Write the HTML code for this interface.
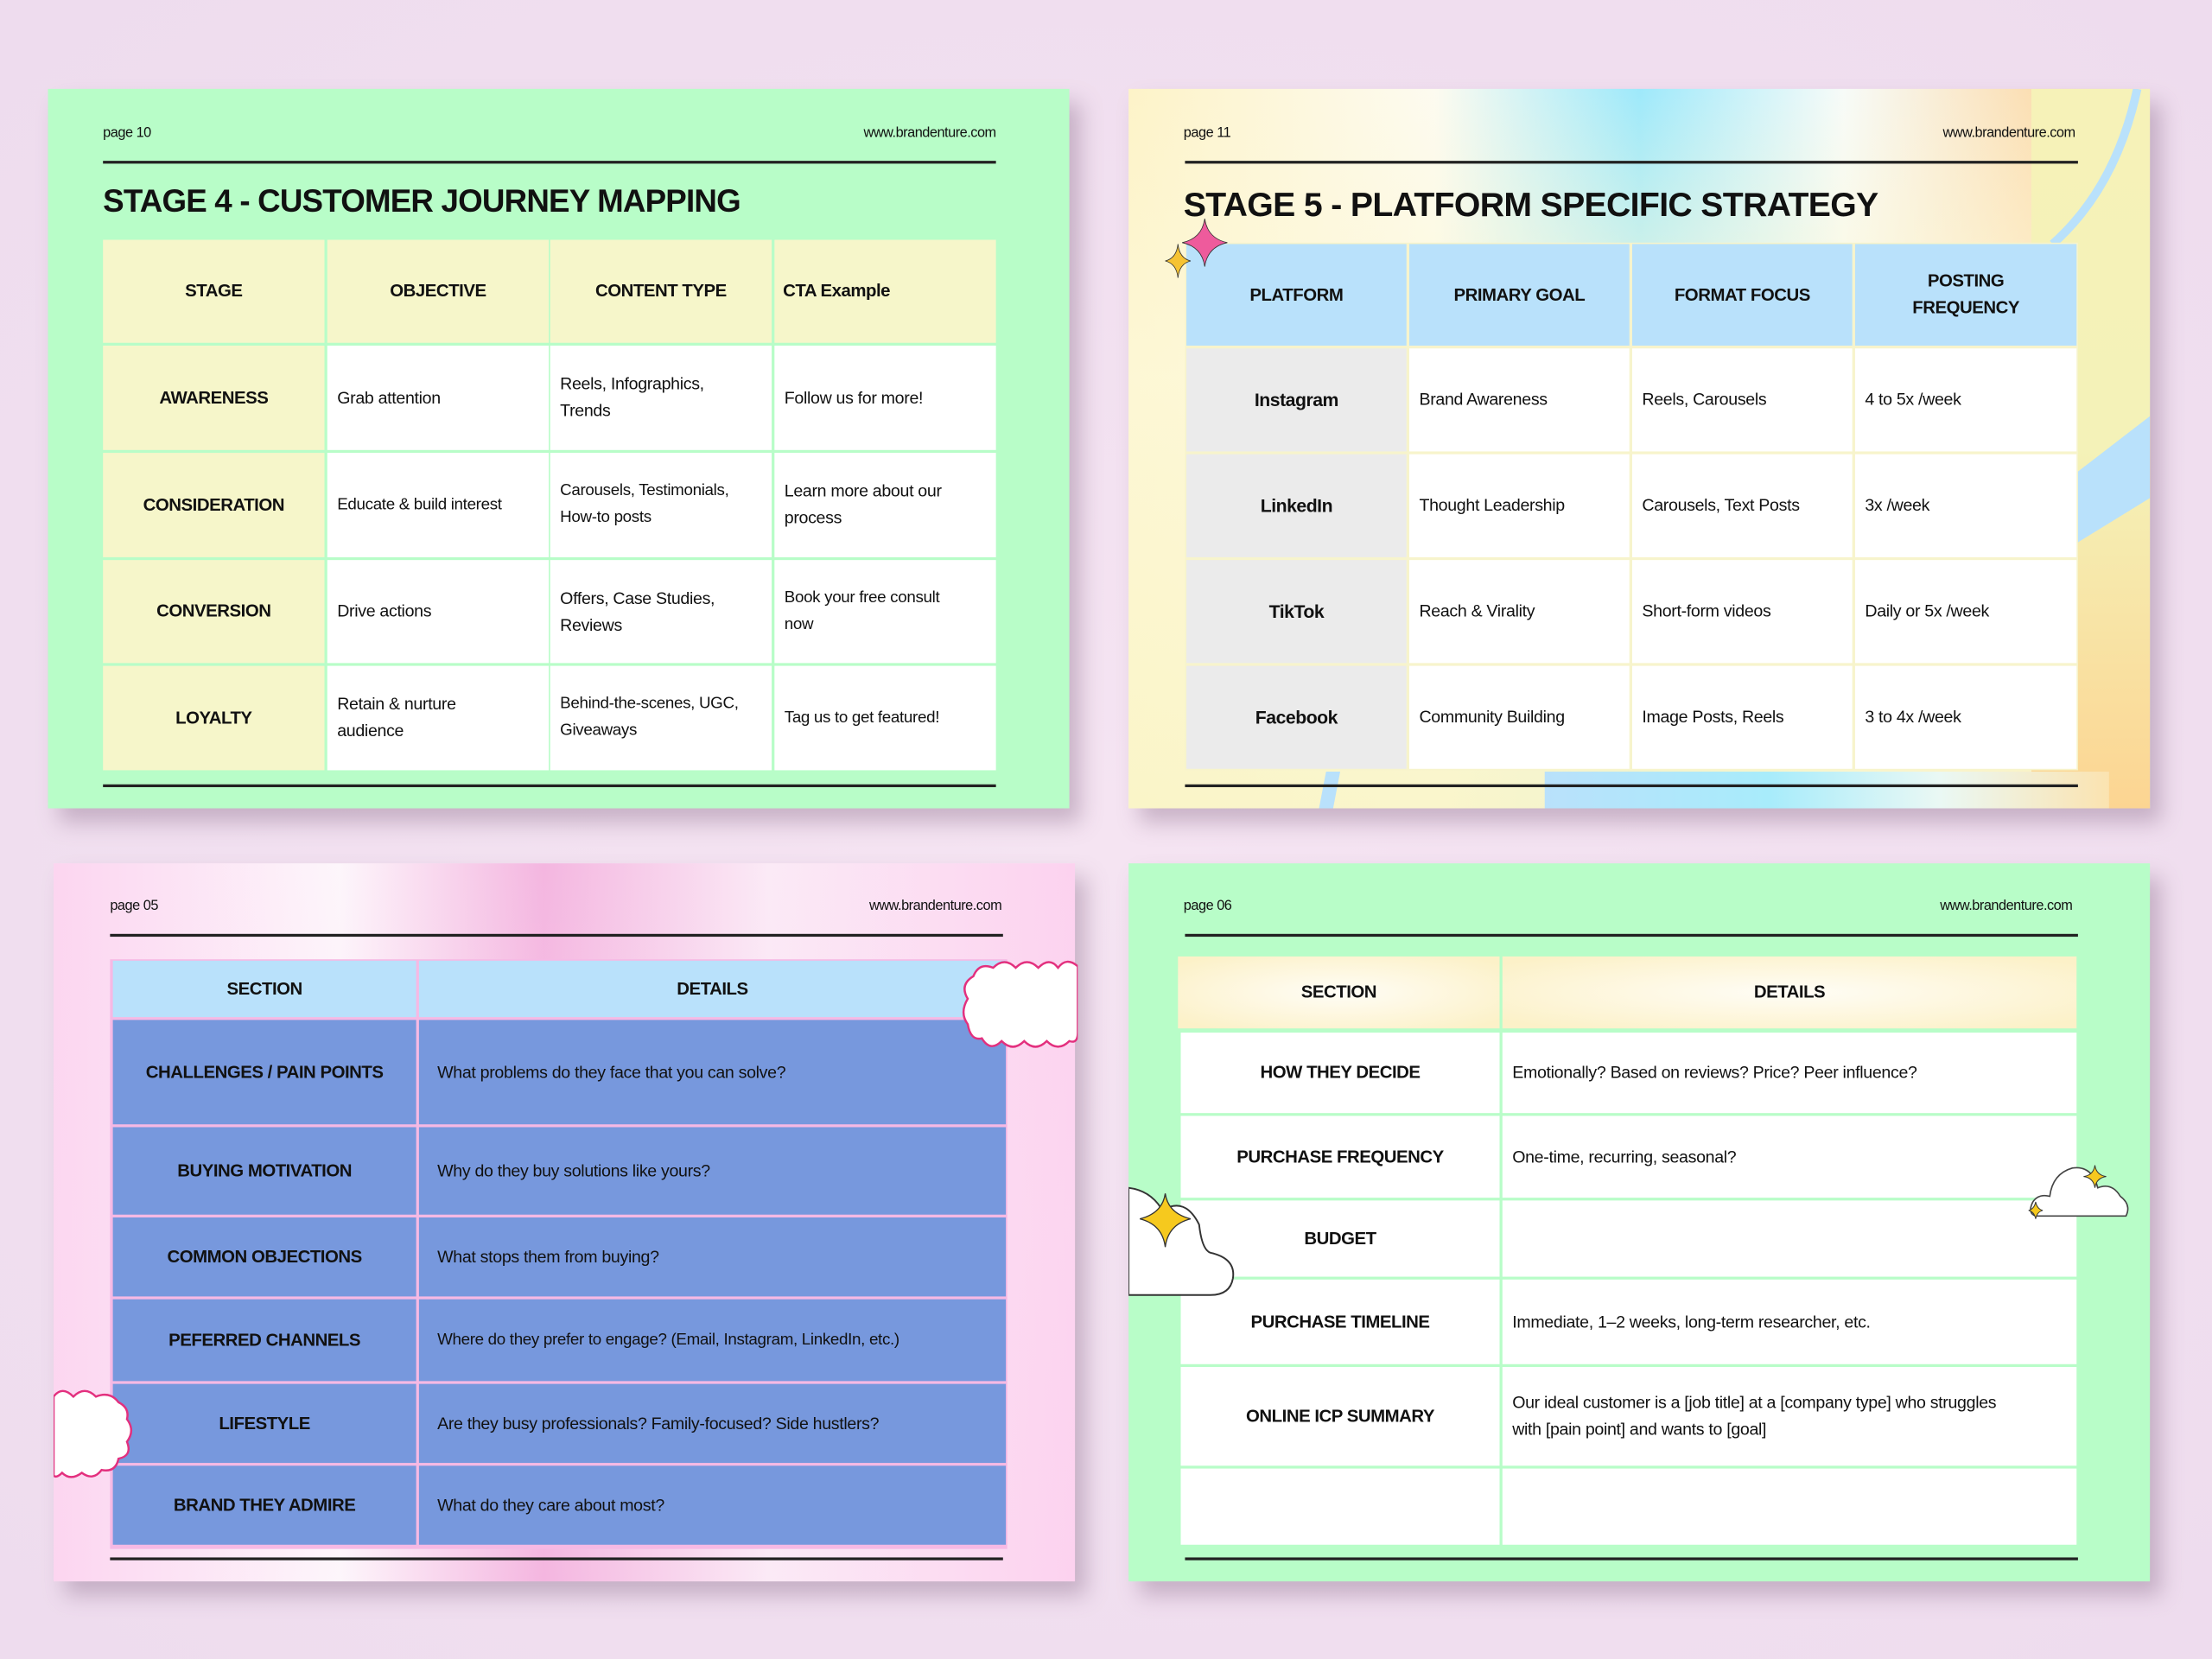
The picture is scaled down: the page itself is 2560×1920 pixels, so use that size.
<!DOCTYPE html>
<html><head><meta charset="utf-8">
<style>
*{margin:0;padding:0;box-sizing:border-box}
html,body{width:2560px;height:1920px;overflow:hidden;background:#f3dff0}
#root{position:absolute;left:0;top:0;width:1568px;height:1176px;transform:scale(1.632653);transform-origin:0 0;font-family:"Liberation Sans",sans-serif;color:#111;background:radial-gradient(ellipse at 50% 50%,#f5e4f2,#eedcee)}
.panel{position:absolute;box-shadow:8px 10px 14px rgba(120,90,120,.35)}
.pg{position:absolute;font-size:10px;letter-spacing:-.3px}
.url{position:absolute;font-size:10px;letter-spacing:-.3px;text-align:right}
.hr{position:absolute;height:1.5px;background:#222}
.title{position:absolute;font-size:22.5px;font-weight:bold;letter-spacing:-0.5px;white-space:nowrap}
.c{position:absolute;display:flex;align-items:center;font-size:12px;line-height:19px;letter-spacing:-.2px;padding:0 7px}
.h{font-weight:bold;font-size:12.5px;justify-content:center;text-align:center;letter-spacing:-.3px;padding:0 3px}
</style></head><body><div id="root">

<!-- Panel 1 -->
<div class="panel" style="left:34px;top:63px;width:724px;height:510px;background:#b8fdc8"></div>
<div class="pg" style="left:73px;top:89px">page 10</div>
<div class="url" style="left:506px;width:200px;top:89px">www.brandenture.com</div>
<div class="hr" style="left:73px;top:114px;width:633px"></div>
<div class="title" style="left:73px;top:130px">STAGE 4 - CUSTOMER JOURNEY MAPPING</div>
<div style="position:absolute;left:73px;top:170px;width:633px;height:376px;background:#b8fdc8"></div>
<div class="c h" style="left:73px;top:170px;width:157px;height:73px;background:#f6f6ca">STAGE</div>
<div class="c h" style="left:232px;top:170px;width:157px;height:73px;background:#f6f6ca">OBJECTIVE</div>
<div class="c h" style="left:390px;top:170px;width:157px;height:73px;background:#f6f6ca">CONTENT TYPE</div>
<div class="c h" style="left:549px;top:170px;width:157px;height:73px;background:#f6f6ca;justify-content:flex-start;padding-left:6px">CTA Example</div>

<div class="c h" style="left:73px;top:245px;width:157px;height:74px;background:#f6f6ca">AWARENESS</div>
<div class="c" style="left:232px;top:245px;width:157px;height:74px;background:#fff">Grab attention</div>
<div class="c" style="left:390px;top:245px;width:157px;height:74px;background:#fff">Reels, Infographics,<br>Trends</div>
<div class="c" style="left:549px;top:245px;width:157px;height:74px;background:#fff">Follow us for more!</div>

<div class="c h" style="left:73px;top:321px;width:157px;height:74px;background:#f6f6ca">CONSIDERATION</div>
<div class="c" style="left:232px;top:321px;width:157px;height:74px;background:#fff;font-size:11.5px">Educate &amp; build interest</div>
<div class="c" style="left:390px;top:321px;width:157px;height:74px;background:#fff;font-size:11.5px">Carousels, Testimonials,<br>How-to posts</div>
<div class="c" style="left:549px;top:321px;width:157px;height:74px;background:#fff">Learn more about our<br>process</div>

<div class="c h" style="left:73px;top:397px;width:157px;height:73px;background:#f6f6ca">CONVERSION</div>
<div class="c" style="left:232px;top:397px;width:157px;height:73px;background:#fff">Drive actions</div>
<div class="c" style="left:390px;top:397px;width:157px;height:73px;background:#fff">Offers, Case Studies,<br>Reviews</div>
<div class="c" style="left:549px;top:397px;width:157px;height:73px;background:#fff;font-size:11.5px">Book your free consult<br>now</div>

<div class="c h" style="left:73px;top:472px;width:157px;height:74px;background:#f6f6ca">LOYALTY</div>
<div class="c" style="left:232px;top:472px;width:157px;height:74px;background:#fff">Retain &amp; nurture<br>audience</div>
<div class="c" style="left:390px;top:472px;width:157px;height:74px;background:#fff;font-size:11.5px">Behind-the-scenes, UGC,<br>Giveaways</div>
<div class="c" style="left:549px;top:472px;width:157px;height:74px;background:#fff;font-size:11.5px">Tag us to get featured!</div>
<div class="hr" style="left:73px;top:556px;width:633px"></div>

<!-- Panel 2 -->
<div class="panel" style="left:800px;top:63px;width:724px;height:510px;overflow:hidden;background:linear-gradient(90deg,#fdf3c8 0%,#fdfbf0 30%,#9ee9fb 50%,#f7fbf8 70%,#fcd9a6 92%,#f4f1b8 100%)">
  <div style="position:absolute;left:0;top:0;width:724px;height:510px;background:linear-gradient(180deg,rgba(255,255,255,0) 0%,rgba(253,248,215,.85) 40%,rgba(250,245,200,.9) 100%)"></div>
  <div style="position:absolute;left:640px;top:0;width:84px;height:510px;background:linear-gradient(180deg,#f6f2b8 0%,#f4f2b8 50%,#fcd592 100%)"></div>
  <svg style="position:absolute;left:0;top:0" width="724" height="510" viewBox="0 0 724 510">
    <path d="M715 0 Q700 70 655 110" stroke="#b9e1fb" stroke-width="6" fill="none"/>
    <path d="M672 272 L724 232 L724 290 L672 322Z" fill="#b9e1fb"/>
    <path d="M140 484 L150 484 L145 510 L135 510Z" fill="#b9e1fb"/>
  </svg>
  <div style="position:absolute;left:295px;top:484px;width:400px;height:26px;background:linear-gradient(90deg,#b9e1fb,#a8ecfb 40%,#eaf8f4 70%,#fbe3b0)"></div>
</div>
<div class="pg" style="left:839px;top:89px">page 11</div>
<div class="url" style="left:1271px;width:200px;top:89px">www.brandenture.com</div>
<div class="hr" style="left:840px;top:114px;width:633px"></div>
<div class="title" style="left:839px;top:132px;font-size:24px;letter-spacing:-0.4px">STAGE 5 - PLATFORM SPECIFIC STRATEGY</div>
<div style="position:absolute;left:840px;top:172px;width:633px;height:374px;background:#f7f4cc"></div>
<div class="c h" style="left:841px;top:173px;width:156px;height:72px;background:#b9e1fb">PLATFORM</div>
<div class="c h" style="left:999px;top:173px;width:156px;height:72px;background:#b9e1fb">PRIMARY GOAL</div>
<div class="c h" style="left:1157px;top:173px;width:156px;height:72px;background:#b9e1fb">FORMAT FOCUS</div>
<div class="c h" style="left:1315px;top:173px;width:157px;height:72px;background:#b9e1fb">POSTING<br>FREQUENCY</div>

<div class="c h" style="left:841px;top:247px;width:156px;height:73px;background:#ebebeb;font-size:13px">Instagram</div>
<div class="c" style="left:999px;top:247px;width:156px;height:73px;background:#fff">Brand Awareness</div>
<div class="c" style="left:1157px;top:247px;width:156px;height:73px;background:#fff">Reels, Carousels</div>
<div class="c" style="left:1315px;top:247px;width:157px;height:73px;background:#fff">4 to 5x /week</div>

<div class="c h" style="left:841px;top:322px;width:156px;height:73px;background:#ebebeb;font-size:13px">LinkedIn</div>
<div class="c" style="left:999px;top:322px;width:156px;height:73px;background:#fff">Thought Leadership</div>
<div class="c" style="left:1157px;top:322px;width:156px;height:73px;background:#fff">Carousels, Text Posts</div>
<div class="c" style="left:1315px;top:322px;width:157px;height:73px;background:#fff">3x /week</div>

<div class="c h" style="left:841px;top:397px;width:156px;height:73px;background:#ebebeb;font-size:13px">TikTok</div>
<div class="c" style="left:999px;top:397px;width:156px;height:73px;background:#fff">Reach &amp; Virality</div>
<div class="c" style="left:1157px;top:397px;width:156px;height:73px;background:#fff">Short-form videos</div>
<div class="c" style="left:1315px;top:397px;width:157px;height:73px;background:#fff">Daily or 5x /week</div>

<div class="c h" style="left:841px;top:472px;width:156px;height:73px;background:#ebebeb;font-size:13px">Facebook</div>
<div class="c" style="left:999px;top:472px;width:156px;height:73px;background:#fff">Community Building</div>
<div class="c" style="left:1157px;top:472px;width:156px;height:73px;background:#fff">Image Posts, Reels</div>
<div class="c" style="left:1315px;top:472px;width:157px;height:73px;background:#fff">3 to 4x /week</div>
<div class="hr" style="left:840px;top:556px;width:633px"></div>
<svg style="position:absolute;left:822px;top:155px" width="50" height="50" viewBox="0 0 50 50">
<path d="M32 0 Q34 14 48 17 Q34 20 32 34 Q30 20 16 17 Q30 14 32 0Z" fill="#ee5b9c" stroke="#333" stroke-width=".5"/>
<path d="M13 18 Q14 28 22 30 Q14 32 13 42 Q12 32 4 30 Q12 28 13 18Z" fill="#f6c332" stroke="#333" stroke-width=".5"/>
</svg>

<!-- Panel 3 -->
<div class="panel" style="left:38px;top:612px;width:724px;height:509px;background:linear-gradient(90deg,#fcd5f0 0%,#fdf6fb 28%,#f4b6e0 48%,#fbeaf6 70%,#fcd2ef 100%)">
  <div style="position:absolute;left:0;top:0;width:100%;height:100%;background:linear-gradient(180deg,rgba(255,255,255,.0),rgba(252,220,242,.3) 50%,rgba(255,255,255,0))"></div>
</div>
<div class="pg" style="left:78px;top:637px">page 05</div>
<div class="url" style="left:510px;width:200px;top:637px">www.brandenture.com</div>
<div class="hr" style="left:78px;top:662px;width:633px"></div>
<div style="position:absolute;left:78px;top:680px;width:636px;height:418px;background:#f6b9e4"></div>
<div class="c h" style="left:80px;top:681px;width:215px;height:40px;background:#b9e1fb">SECTION</div>
<div class="c h" style="left:297px;top:681px;width:416px;height:40px;background:#b9e1fb">DETAILS</div>
<div class="c h" style="left:80px;top:723px;width:215px;height:74px;background:#7798dd">CHALLENGES / PAIN POINTS</div>
<div class="c" style="left:297px;top:723px;width:416px;height:74px;background:#7798dd;padding-left:13px">What problems do they face that you can solve?</div>
<div class="c h" style="left:80px;top:799px;width:215px;height:62px;background:#7798dd">BUYING MOTIVATION</div>
<div class="c" style="left:297px;top:799px;width:416px;height:62px;background:#7798dd;padding-left:13px">Why do they buy solutions like yours?</div>
<div class="c h" style="left:80px;top:863px;width:215px;height:56px;background:#7798dd">COMMON OBJECTIONS</div>
<div class="c" style="left:297px;top:863px;width:416px;height:56px;background:#7798dd;padding-left:13px">What stops them from buying?</div>
<div class="c h" style="left:80px;top:921px;width:215px;height:58px;background:#7798dd">PEFERRED CHANNELS</div>
<div class="c" style="left:297px;top:921px;width:416px;height:58px;background:#7798dd;padding-left:13px;font-size:11.5px">Where do they prefer to engage? (Email, Instagram, LinkedIn, etc.)</div>
<div class="c h" style="left:80px;top:981px;width:215px;height:56px;background:#7798dd">LIFESTYLE</div>
<div class="c" style="left:297px;top:981px;width:416px;height:56px;background:#7798dd;padding-left:13px">Are they busy professionals? Family-focused? Side hustlers?</div>
<div class="c h" style="left:80px;top:1039px;width:215px;height:56px;background:#7798dd">BRAND THEY ADMIRE</div>
<div class="c" style="left:297px;top:1039px;width:416px;height:56px;background:#7798dd;padding-left:13px">What do they care about most?</div>
<div class="hr" style="left:78px;top:1104px;width:633px"></div>
<svg style="position:absolute;left:680px;top:680px" width="84" height="68" viewBox="0 0 84 68">
<path d="M84 5 Q76 -2 70 6 Q64 -2 56 6 Q48 -2 40 6 Q32 -2 24 6 Q14 2 10 12 Q0 18 6 28 Q0 38 6 46 Q8 58 16 56 Q22 66 30 58 Q38 66 46 58 Q54 66 62 58 Q70 66 78 58 Q84 60 84 52Z" fill="#fff" stroke="#e3307e" stroke-width="1.5"/>
</svg>
<svg style="position:absolute;left:38px;top:984px" width="62" height="66" viewBox="0 0 62 66">
<path d="M0 6 Q6 -2 14 6 Q22 -2 30 6 Q40 2 46 10 Q54 14 52 22 Q58 30 52 38 Q56 48 46 50 Q44 60 34 58 Q28 66 20 60 Q12 66 6 60 Q2 64 0 62Z" fill="#fff" stroke="#e3307e" stroke-width="1.5"/>
</svg>

<!-- Panel 4 -->
<div class="panel" style="left:800px;top:612px;width:724px;height:509px;background:#b8fdc8"></div>
<div class="pg" style="left:839px;top:637px">page 06</div>
<div class="url" style="left:1269px;width:200px;top:637px">www.brandenture.com</div>
<div class="hr" style="left:840px;top:662px;width:633px"></div>
<div class="c h" style="left:835px;top:678px;width:228px;height:51px;background:radial-gradient(ellipse at 50% 50%,#fffdf6 0%,#fcf1c8 90%)">SECTION</div>
<div class="c h" style="left:1065px;top:678px;width:407px;height:51px;background:radial-gradient(ellipse at 50% 50%,#fffdf6 0%,#fcf1c8 90%)">DETAILS</div>
<div class="c h" style="left:837px;top:732px;width:226px;height:57px;background:#fff">HOW THEY DECIDE</div>
<div class="c" style="left:1065px;top:732px;width:407px;height:57px;background:#fff">Emotionally? Based on reviews? Price? Peer influence?</div>
<div class="c h" style="left:837px;top:791px;width:226px;height:58px;background:#fff">PURCHASE FREQUENCY</div>
<div class="c" style="left:1065px;top:791px;width:407px;height:58px;background:#fff">One-time, recurring, seasonal?</div>
<div class="c h" style="left:837px;top:851px;width:226px;height:54px;background:#fff">BUDGET</div>
<div class="c" style="left:1065px;top:851px;width:407px;height:54px;background:#fff"></div>
<div class="c h" style="left:837px;top:907px;width:226px;height:60px;background:#fff">PURCHASE TIMELINE</div>
<div class="c" style="left:1065px;top:907px;width:407px;height:60px;background:#fff">Immediate, 1–2 weeks, long-term researcher, etc.</div>
<div class="c h" style="left:837px;top:969px;width:226px;height:70px;background:#fff">ONLINE ICP SUMMARY</div>
<div class="c" style="left:1065px;top:969px;width:407px;height:70px;background:#fff">Our ideal customer is a [job title] at a [company type] who struggles<br>with [pain point] and wants to [goal]</div>
<div class="c" style="left:837px;top:1041px;width:226px;height:54px;background:#fff"></div>
<div class="c" style="left:1065px;top:1041px;width:407px;height:54px;background:#fff"></div>
<div class="hr" style="left:840px;top:1104px;width:633px"></div>
<svg style="position:absolute;left:800px;top:838px" width="80" height="84" viewBox="0 0 80 84">
<path d="M0 4 Q16 6 24 20 Q40 10 50 30 Q52 48 58 50 Q76 54 74 68 Q72 80 58 80 L0 80Z" fill="#fff" stroke="#333" stroke-width="1.2"/>
<path d="M26 8 Q28 22 44 26 Q28 30 26 46 Q24 30 8 26 Q24 22 26 8Z" fill="#f6c91e" stroke="#333" stroke-width=".8"/>
</svg>
<svg style="position:absolute;left:1435px;top:820px" width="76" height="48" viewBox="0 0 76 48">
<path d="M8 42 Q2 40 6 32 Q10 26 18 28 Q20 12 34 8 Q48 6 52 22 Q62 18 68 28 Q76 34 72 42Z" fill="#fff" stroke="#444" stroke-width="1"/>
<path d="M50 6 Q51 13 58 14 Q51 15 50 22 Q49 15 42 14 Q49 13 50 6Z" fill="#f6c91e" stroke="#333" stroke-width=".6"/>
<path d="M8 32 Q9 37 13 38 Q9 39 8 44 Q7 39 3 38 Q7 37 8 32Z" fill="#f6c91e" stroke="#333" stroke-width=".6"/>
</svg>

</div></body></html>
